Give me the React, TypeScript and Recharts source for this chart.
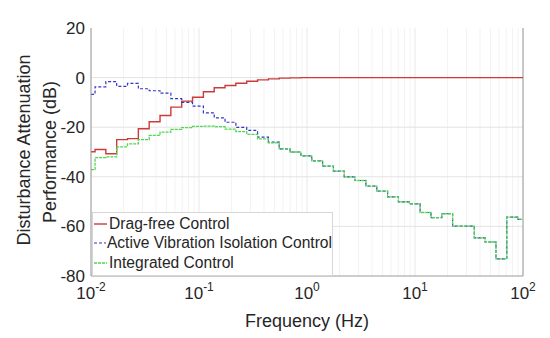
import {
  CartesianGrid,
  Label,
  Line,
  LineChart,
  ReferenceLine,
  XAxis,
  YAxis,
} from "recharts";

// 1/3-octave band edges (Hz) where the stairs change level
const bandEdges = [
  0.0109, 0.01372, 0.01729, 0.02178, 0.02744, 0.03457, 0.04356, 0.05488, 0.06915, 0.08712,
  0.1098, 0.1383, 0.1742, 0.2195, 0.2766, 0.3485, 0.439, 0.5531, 0.6969, 0.8781,
  1.106, 1.394, 1.756, 2.212, 2.787, 3.512, 4.425, 5.575, 7.024, 8.85,
  11.15, 14.05, 17.7, 22.3, 28.1, 35.4, 44.6, 56.2, 70.8, 89.2,
];

// level of each band (dB), 41 bands from 0.01 Hz to 100 Hz
const dragFree = [
  -29.9, -29.0, -30.7, -25.0, -24.6, -20.6, -17.8, -15.3, -11.9, -9.5,
  -7.9, -5.7, -4.1, -3.2, -2.3, -1.5, -0.9, -0.5, -0.2, -0.1,
  0, 0, 0, 0, 0, 0, 0, 0, 0, 0,
  0, 0, 0, 0, 0, 0, 0, 0, 0, 0, 0,
];

const activeIsolation = [
  -6.8, -3.7, -1.6, -3.5, -2.3, -4.5, -5.3, -6.3, -8.5, -10.0,
  -11.5, -14.2, -16.2, -18.0, -20.1, -21.3, -24.0, -26.0, -28.7, -30.0,
  -31.6, -33.6, -35.7, -37.7, -40.0, -41.5, -43.8, -45.8, -48.1, -50.1,
  -50.9, -54.4, -56.5, -54.9, -59.9, -59.9, -64.6, -66.3, -73.1, -56.3, -57.2,
];

const integrated = [
  -37.1, -32.3, -32.0, -27.9, -26.7, -25.0, -23.3, -22.0, -20.9, -20.2,
  -19.7, -19.6, -19.8, -20.8, -21.8, -22.9, -24.7, -26.3, -28.7, -30.0,
  -31.6, -33.6, -35.7, -37.7, -40.0, -41.5, -43.8, -45.8, -48.1, -50.1,
  -50.9, -54.4, -56.5, -54.9, -59.9, -59.9, -64.6, -66.3, -73.1, -56.3, -57.2,
];

const decadeTicks = [0.01, 0.1, 1, 10, 100];
const yTicks = [-80, -60, -40, -20, 0, 20];
const gridLevels = [-60, -40, -20, 0];
const minorGrid = [
  0.02, 0.03, 0.04, 0.05, 0.06, 0.07, 0.08, 0.09,
  0.2, 0.3, 0.4, 0.5, 0.6, 0.7, 0.8, 0.9,
  2, 3, 4, 5, 6, 7, 8, 9,
  20, 30, 40, 50, 60, 70, 80, 90,
];

const series = [
  { key: "dragFree", name: "Drag-free Control", color: "#cc3a3a", dash: undefined, width: 1.4 },
  { key: "activeIsolation", name: "Active Vibration Isolation Control", color: "#3535c8", dash: "3 2", width: 1.2 },
  { key: "integrated", name: "Integrated Control", color: "#4fd84f", dash: "3 1", width: 1.3 },
];

const frequencies = [0.01, ...bandEdges, 100];
const rows = frequencies.map((f, i) => {
  const k = Math.min(i, dragFree.length - 1);
  return {
    f,
    dragFree: dragFree[k],
    activeIsolation: activeIsolation[k],
    integrated: integrated[k],
  };
});

const FONT = "Arial, 'Liberation Sans', sans-serif";
const TEXT = "#262626";

function PowerTick({ x, y, payload }: any) {
  const exp = Math.round(Math.log10(payload.value));
  return (
    <text x={x} y={y + 15} textAnchor="middle" fill={TEXT} fontFamily={FONT} fontSize={17}>
      <tspan>10</tspan>
      <tspan dy={-8} fontSize={12}>
        {exp}
      </tspan>
    </text>
  );
}

function LegendBox() {
  return (
    <div
      style={{
        position: "absolute",
        left: 92,
        top: 212,
        width: 241,
        height: 64,
        boxSizing: "border-box",
        border: "1px solid #d6d6d6",
        background: "#fff",
        padding: "1px 0 0 0",
        fontFamily: FONT,
        fontSize: 15.6,
        color: TEXT,
      }}
    >
      {series.map((s) => (
        <div key={s.key} style={{ display: "flex", alignItems: "center", height: 19.5 }}>
          <svg width={15} height={4} style={{ marginRight: 1 }}>
            <line
              x1={1}
              y1={2}
              x2={14}
              y2={2}
              stroke={s.color}
              strokeWidth={s.width}
              strokeDasharray={s.dash}
            />
          </svg>
          <span style={{ whiteSpace: "nowrap" }}>{s.name}</span>
        </div>
      ))}
    </div>
  );
}

export default function App() {
  return (
    <div style={{ position: "absolute", left: 0, top: 0, width: 550, height: 338, background: "#fff" }}>
      <LineChart
        width={550}
        height={338}
        data={rows}
        margin={{ top: 28, right: 27, bottom: 22, left: 0 }}
      >
        <CartesianGrid stroke="#e8e8e8" strokeWidth={1} horizontal={false} />
        {minorGrid.map((g) => (
          <ReferenceLine key={g} x={g} stroke="#f3f3f3" strokeWidth={1} />
        ))}
        {gridLevels.map((v) => (
          <ReferenceLine key={v} y={v} stroke="#e3e3e3" strokeWidth={1} />
        ))}
        <XAxis
          dataKey="f"
          type="number"
          scale="log"
          domain={[0.01, 100]}
          ticks={decadeTicks}
          allowDataOverflow
          height={40}
          axisLine={{ stroke: "#9a9a9a" }}
          tickLine={false}
          tick={<PowerTick />}
          interval={0}
        >
          <Label
            content={() => (
              <text
                x={307}
                y={327}
                textAnchor="middle"
                fill={TEXT}
                fontFamily={FONT}
                fontSize={18}
              >
                Frequency (Hz)
              </text>
            )}
          />
        </XAxis>
        <YAxis
          type="number"
          domain={[-80, 20]}
          ticks={yTicks}
          allowDataOverflow
          width={91}
          axisLine={{ stroke: "#9a9a9a" }}
          tickLine={false}
          tickSize={0}
          tickMargin={6}
          tick={{ fill: TEXT, fontFamily: FONT, fontSize: 17 }}
          interval={0}
        >
          <Label
            content={() => (
              <g fill={TEXT} fontFamily={FONT} fontSize={18}>
                <text x={30} y={150} textAnchor="middle" transform="rotate(-90, 30, 150)">
                  Disturbance Attenuation
                </text>
                <text x={56} y={152} textAnchor="middle" transform="rotate(-90, 56, 152)">
                  Performance (dB)
                </text>
              </g>
            )}
          />
        </YAxis>
        <ReferenceLine x={100} stroke="#9a9a9a" strokeWidth={1} />
        {series.map((s) => (
          <Line
            key={s.key}
            dataKey={s.key}
            name={s.name}
            type="stepAfter"
            stroke={s.color}
            strokeWidth={s.width}
            strokeDasharray={s.dash}
            dot={false}
            activeDot={false}
            isAnimationActive={false}
          />
        ))}
      </LineChart>
      <LegendBox />
    </div>
  );
}
